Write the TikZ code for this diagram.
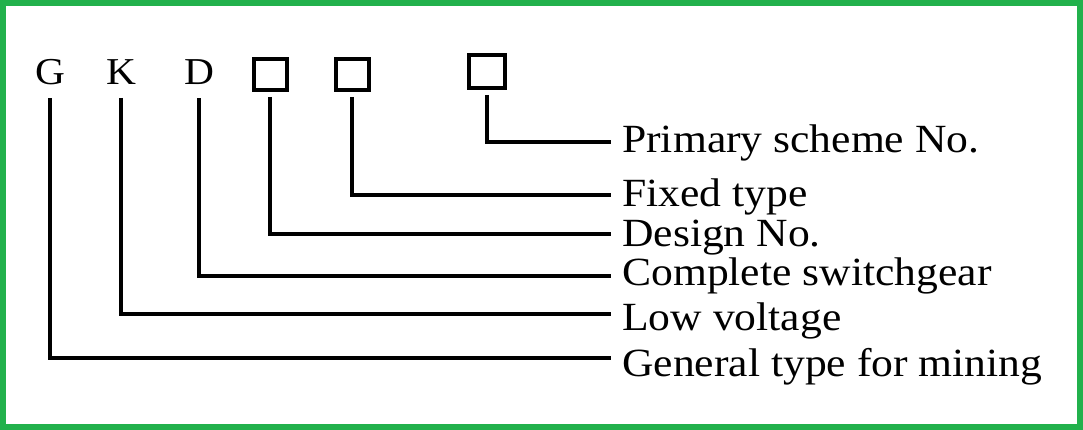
\documentclass[tikz,border=0pt]{standalone}
\usepackage{fontspec}
\setmainfont{Liberation Serif}[FakeStretch=1.09]
\usetikzlibrary{positioning}
\definecolor{framegreen}{RGB}{34,177,76}

\begin{document}
\begin{tikzpicture}[x=1pt,y=-1pt,
  letter/.style={font=\fontsize{38}{40}\selectfont,inner sep=0pt,outer xsep=0pt,outer ysep=13pt,anchor=base},
  slot/.style={draw,line width=4pt,minimum width=33pt,minimum height=31pt,inner sep=0pt,outer sep=7pt},
  lbl/.style={font=\fontsize{40}{42}\selectfont,anchor=base west,inner xsep=11pt,inner ysep=0pt},
  lead/.style={line width=3.5pt}]
\useasboundingbox (0,0) rectangle (1083,430);
\draw[framegreen,line width=6pt] (3,3) rectangle (1080,427);
% code letters and empty slots
\node[letter] (G) at (50,85) {G};
\node[letter] (K) at (121,85) {K};
\node[letter] (D) at (199,85) {D};
\node[slot] (s1) at (270,74.5) {};
\node[slot] (s2) at (352,74.5) {};
\node[slot,minimum width=36pt,minimum height=33pt] (s3) at (487,71.5) {};
% meanings
\node[lbl] (prim) at (611,153) {Primary scheme No.};
\node[lbl] (fix) at (611,207) {Fixed type};
\node[lbl] (des) at (611,247) {Design No.};
\node[lbl] (comp) at (611,285) {Complete switchgear};
\node[lbl] (low) at (611,330) {Low voltage};
\node[lbl] (gen) at (611,376) {General type for mining};
\draw[lead] (s3.south) |- ([yshift=11pt]prim.base west);
\draw[lead] (s2.south) |- ([yshift=12pt]fix.base west);
\draw[lead] (s1.south) |- ([yshift=13pt]des.base west);
\draw[lead] (D.south) |- ([yshift=9pt]comp.base west);
\draw[lead] (K.south) |- ([yshift=16pt]low.base west);
\draw[lead] (G.south) |- ([yshift=18pt]gen.base west);
\end{tikzpicture}
\end{document}
